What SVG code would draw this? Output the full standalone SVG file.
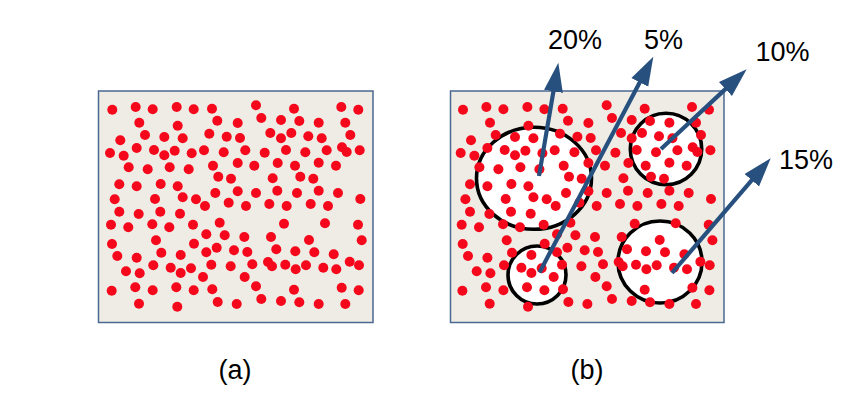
<svg xmlns="http://www.w3.org/2000/svg" width="856" height="402" viewBox="0 0 856 402">
<style>
.box{fill:#EEECE4;stroke:#4A6891;stroke-width:1.5}
.d{fill:#F5081C}
.ring{fill:#FFFFFF;stroke:#000000;stroke-width:3.6}
.arr{stroke:#28507F;stroke-width:4.2;fill:none;marker-end:url(#head)}
.t{font-family:"Liberation Sans",Arial,sans-serif;font-size:27px;fill:#000000}
</style>
<defs>
<marker id="head" markerUnits="userSpaceOnUse" markerWidth="32" markerHeight="22" viewBox="0 -11 32 22" refX="8" refY="0" orient="auto">
<path d="M0,-9.5 L29,0 L0,9.5 z" fill="#28507F"/>
</marker>
<g id="dots">
<circle class="d" cx="112.3" cy="109.7" r="5"/>
<circle class="d" cx="135.7" cy="107" r="5"/>
<circle class="d" cx="152.7" cy="109.3" r="5"/>
<circle class="d" cx="176.7" cy="107" r="5"/>
<circle class="d" cx="193.7" cy="109.3" r="5"/>
<circle class="d" cx="212" cy="108.7" r="5"/>
<circle class="d" cx="139.3" cy="122.7" r="5"/>
<circle class="d" cx="177.7" cy="125.7" r="5"/>
<circle class="d" cx="217.3" cy="120.7" r="5"/>
<circle class="d" cx="237.7" cy="123" r="5"/>
<circle class="d" cx="145" cy="135" r="5"/>
<circle class="d" cx="120.3" cy="140.3" r="5"/>
<circle class="d" cx="164.3" cy="137" r="5"/>
<circle class="d" cx="182.7" cy="138.3" r="5"/>
<circle class="d" cx="209.3" cy="133.7" r="5"/>
<circle class="d" cx="226.7" cy="136.7" r="5"/>
<circle class="d" cx="240" cy="138" r="5"/>
<circle class="d" cx="136.7" cy="148" r="5"/>
<circle class="d" cx="110" cy="153" r="5"/>
<circle class="d" cx="123.7" cy="155.7" r="5"/>
<circle class="d" cx="154" cy="150" r="5"/>
<circle class="d" cx="164.3" cy="155.3" r="5"/>
<circle class="d" cx="174.7" cy="150.7" r="5"/>
<circle class="d" cx="191.7" cy="153.3" r="5"/>
<circle class="d" cx="204" cy="150.3" r="5"/>
<circle class="d" cx="223.7" cy="152.3" r="5"/>
<circle class="d" cx="128.7" cy="167.3" r="5"/>
<circle class="d" cx="147.7" cy="169.3" r="5"/>
<circle class="d" cx="169.7" cy="167.3" r="5"/>
<circle class="d" cx="188.7" cy="169.3" r="5"/>
<circle class="d" cx="213" cy="165.7" r="5"/>
<circle class="d" cx="237.7" cy="163" r="5"/>
<circle class="d" cx="218.3" cy="176.7" r="5"/>
<circle class="d" cx="231" cy="178.7" r="5"/>
<circle class="d" cx="119.3" cy="184.3" r="5"/>
<circle class="d" cx="136.7" cy="186.3" r="5"/>
<circle class="d" cx="160.7" cy="184" r="5"/>
<circle class="d" cx="177.7" cy="186.3" r="5"/>
<circle class="d" cx="237.7" cy="191.3" r="5"/>
<circle class="d" cx="114.7" cy="199.3" r="5"/>
<circle class="d" cx="155" cy="199" r="5"/>
<circle class="d" cx="182.7" cy="197.3" r="5"/>
<circle class="d" cx="196" cy="199.3" r="5"/>
<circle class="d" cx="215.3" cy="193" r="5"/>
<circle class="d" cx="228.7" cy="202.7" r="5"/>
<circle class="d" cx="205" cy="206" r="5"/>
<circle class="d" cx="256" cy="105.3" r="5"/>
<circle class="d" cx="294" cy="108.7" r="5"/>
<circle class="d" cx="341.3" cy="107" r="5"/>
<circle class="d" cx="358.3" cy="109.7" r="5"/>
<circle class="d" cx="261.3" cy="118" r="5"/>
<circle class="d" cx="281" cy="120" r="5"/>
<circle class="d" cx="299.3" cy="121" r="5"/>
<circle class="d" cx="318.7" cy="122.7" r="5"/>
<circle class="d" cx="345.3" cy="122.7" r="5"/>
<circle class="d" cx="270.3" cy="133" r="5"/>
<circle class="d" cx="281" cy="138.3" r="5"/>
<circle class="d" cx="291.3" cy="133" r="5"/>
<circle class="d" cx="308.3" cy="136.3" r="5"/>
<circle class="d" cx="321.7" cy="138.3" r="5"/>
<circle class="d" cx="350.3" cy="135" r="5"/>
<circle class="d" cx="245.3" cy="150.3" r="5"/>
<circle class="d" cx="264.7" cy="152.7" r="5"/>
<circle class="d" cx="286" cy="150" r="5"/>
<circle class="d" cx="305.3" cy="152.3" r="5"/>
<circle class="d" cx="326.7" cy="150.3" r="5"/>
<circle class="d" cx="342" cy="147.3" r="5"/>
<circle class="d" cx="346.7" cy="152" r="5"/>
<circle class="d" cx="359.7" cy="150.3" r="5"/>
<circle class="d" cx="254.3" cy="165.7" r="5"/>
<circle class="d" cx="277.7" cy="163" r="5"/>
<circle class="d" cx="295" cy="165.7" r="5"/>
<circle class="d" cx="318.7" cy="162.7" r="5"/>
<circle class="d" cx="336" cy="165.7" r="5"/>
<circle class="d" cx="272.7" cy="178.3" r="5"/>
<circle class="d" cx="300.3" cy="176.7" r="5"/>
<circle class="d" cx="313.3" cy="178.7" r="5"/>
<circle class="d" cx="256" cy="193" r="5"/>
<circle class="d" cx="277.3" cy="190.7" r="5"/>
<circle class="d" cx="297" cy="193" r="5"/>
<circle class="d" cx="318.7" cy="190.7" r="5"/>
<circle class="d" cx="338" cy="193" r="5"/>
<circle class="d" cx="360.3" cy="199" r="5"/>
<circle class="d" cx="246" cy="206" r="5"/>
<circle class="d" cx="269.3" cy="204" r="5"/>
<circle class="d" cx="286.7" cy="206" r="5"/>
<circle class="d" cx="310.7" cy="204" r="5"/>
<circle class="d" cx="328" cy="206" r="5"/>
<circle class="d" cx="119.3" cy="211.7" r="5"/>
<circle class="d" cx="138.7" cy="214" r="5"/>
<circle class="d" cx="160.3" cy="211.7" r="5"/>
<circle class="d" cx="180" cy="213.7" r="5"/>
<circle class="d" cx="111" cy="224.7" r="5"/>
<circle class="d" cx="128.3" cy="227.3" r="5"/>
<circle class="d" cx="152.3" cy="224.3" r="5"/>
<circle class="d" cx="169.3" cy="227.3" r="5"/>
<circle class="d" cx="193" cy="224.7" r="5"/>
<circle class="d" cx="219.7" cy="222.7" r="5"/>
<circle class="d" cx="206.3" cy="234.3" r="5"/>
<circle class="d" cx="224.7" cy="235.3" r="5"/>
<circle class="d" cx="112" cy="244" r="5"/>
<circle class="d" cx="156" cy="240.3" r="5"/>
<circle class="d" cx="194" cy="243.7" r="5"/>
<circle class="d" cx="216.7" cy="247.7" r="5"/>
<circle class="d" cx="234" cy="250.3" r="5"/>
<circle class="d" cx="117.3" cy="256" r="5"/>
<circle class="d" cx="136.7" cy="257.7" r="5"/>
<circle class="d" cx="161.3" cy="252.7" r="5"/>
<circle class="d" cx="180.7" cy="255" r="5"/>
<circle class="d" cx="206.3" cy="252.3" r="5"/>
<circle class="d" cx="211.3" cy="264.7" r="5"/>
<circle class="d" cx="230.7" cy="266.3" r="5"/>
<circle class="d" cx="126" cy="271.3" r="5"/>
<circle class="d" cx="139.7" cy="273.3" r="5"/>
<circle class="d" cx="153.3" cy="265.3" r="5"/>
<circle class="d" cx="170.7" cy="267.7" r="5"/>
<circle class="d" cx="180.7" cy="273" r="5"/>
<circle class="d" cx="191" cy="268.3" r="5"/>
<circle class="d" cx="203" cy="277" r="5"/>
<circle class="d" cx="111.7" cy="290.7" r="5"/>
<circle class="d" cx="135.3" cy="287.3" r="5"/>
<circle class="d" cx="152.7" cy="290.3" r="5"/>
<circle class="d" cx="176.3" cy="287.3" r="5"/>
<circle class="d" cx="193.7" cy="290.3" r="5"/>
<circle class="d" cx="212.3" cy="289.3" r="5"/>
<circle class="d" cx="139" cy="303.7" r="5"/>
<circle class="d" cx="177.3" cy="306.7" r="5"/>
<circle class="d" cx="217.7" cy="302" r="5"/>
<circle class="d" cx="236.7" cy="304" r="5"/>
<circle class="d" cx="284" cy="223.7" r="5"/>
<circle class="d" cx="325" cy="223.3" r="5"/>
<circle class="d" cx="358" cy="224.7" r="5"/>
<circle class="d" cx="244.3" cy="237" r="5"/>
<circle class="d" cx="271" cy="237" r="5"/>
<circle class="d" cx="309" cy="240" r="5"/>
<circle class="d" cx="361.7" cy="240.3" r="5"/>
<circle class="d" cx="247.3" cy="252" r="5"/>
<circle class="d" cx="276.3" cy="249.3" r="5"/>
<circle class="d" cx="295.3" cy="251.3" r="5"/>
<circle class="d" cx="314.3" cy="252.3" r="5"/>
<circle class="d" cx="333.7" cy="254.3" r="5"/>
<circle class="d" cx="252.3" cy="264.3" r="5"/>
<circle class="d" cx="268" cy="262" r="5"/>
<circle class="d" cx="272" cy="266.3" r="5"/>
<circle class="d" cx="285.3" cy="264.7" r="5"/>
<circle class="d" cx="295.7" cy="269.3" r="5"/>
<circle class="d" cx="306" cy="265.3" r="5"/>
<circle class="d" cx="323.3" cy="267.7" r="5"/>
<circle class="d" cx="336.3" cy="269.3" r="5"/>
<circle class="d" cx="349.7" cy="261.7" r="5"/>
<circle class="d" cx="359" cy="265.3" r="5"/>
<circle class="d" cx="244.7" cy="277" r="5"/>
<circle class="d" cx="256" cy="286.3" r="5"/>
<circle class="d" cx="294" cy="289.7" r="5"/>
<circle class="d" cx="341.7" cy="287.7" r="5"/>
<circle class="d" cx="358.7" cy="290.3" r="5"/>
<circle class="d" cx="261.3" cy="299" r="5"/>
<circle class="d" cx="281" cy="301" r="5"/>
<circle class="d" cx="299.3" cy="302.3" r="5"/>
<circle class="d" cx="318.7" cy="304" r="5"/>
<circle class="d" cx="345.3" cy="304" r="5"/>
</g>
</defs>

<g id="panel-a">
<rect class="box" x="98.5" y="91" width="274.5" height="231.5"/>
<use href="#dots"/>
<text class="t" x="235" y="379" text-anchor="middle">(a)</text>
</g>

<g id="panel-b">
<rect class="box" x="450.5" y="91" width="273.5" height="231.5"/>
<g id="regions">
<ellipse id="region-20" class="ring" cx="534" cy="178.3" rx="57.5" ry="51"/>
<circle id="region-5" class="ring" cx="537" cy="275" r="29"/>
<circle id="region-10" class="ring" cx="666" cy="149" r="35.7"/>
<ellipse id="region-15" class="ring" cx="660" cy="262" rx="42" ry="41"/>
</g>
<use href="#dots" x="350.7"/>
<text class="t" x="587" y="379" text-anchor="middle">(b)</text>
</g>

<g id="connectors">
<line class="arr" x1="539" y1="176" x2="554.8" y2="83.4"/>
<line class="arr" x1="539.5" y1="272.5" x2="643.5" y2="75.3"/>
<line class="arr" x1="661" y1="149" x2="731.3" y2="83.6"/>
<line class="arr" x1="672" y1="273" x2="757" y2="174.2"/>
</g>

<g id="labels">
<text id="lbl-20" class="t" x="548" y="48.5">20%</text>
<text id="lbl-5" class="t" x="644" y="48.5">5%</text>
<text id="lbl-10" class="t" x="755.5" y="61">10%</text>
<text id="lbl-15" class="t" x="779" y="169">15%</text>
</g>
</svg>
